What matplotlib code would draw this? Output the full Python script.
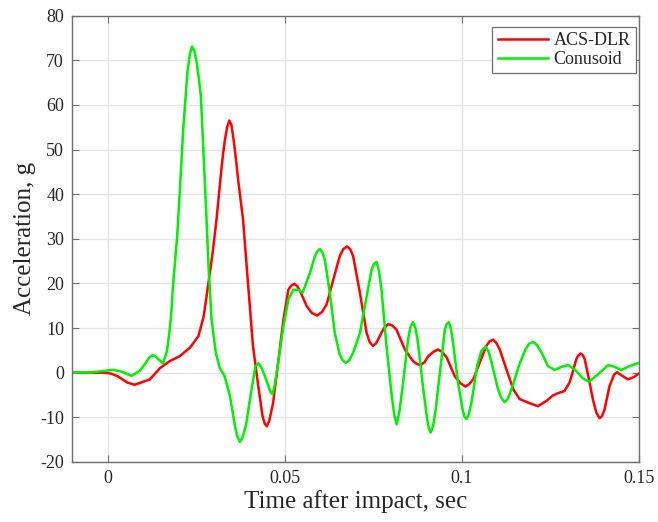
import matplotlib
matplotlib.use("Agg")
from matplotlib import pyplot as plt
from matplotlib.ticker import FixedLocator

# ACS-DLR pulse (time in sec, acceleration in g)
acs_t = [-0.010, -0.005, -0.001, 0.001, 0.003, 0.0055, 0.0076, 0.009, 0.0119, 0.0147,
         0.0175, 0.0203, 0.0232, 0.0256, 0.0271, 0.0283, 0.0296, 0.0307, 0.0318, 0.0324,
         0.0330, 0.0337, 0.0343, 0.0349, 0.0356, 0.0362, 0.0368, 0.0382, 0.0396, 0.0410,
         0.0425, 0.0437, 0.0443, 0.0449, 0.0456, 0.0467, 0.0481, 0.0496, 0.0510, 0.0518,
         0.0527, 0.0535, 0.0543, 0.0562, 0.0576, 0.0591, 0.0605, 0.0618, 0.0637, 0.0655,
         0.0665, 0.0676, 0.0685, 0.0693, 0.0712, 0.0731, 0.0740, 0.0749, 0.0758, 0.0768,
         0.0780, 0.0792, 0.0803, 0.0815, 0.0839, 0.0862, 0.0872, 0.0883, 0.0894, 0.0905,
         0.0920, 0.0933, 0.0945, 0.0957, 0.0980, 0.0995, 0.1010, 0.1020, 0.1032, 0.1050,
         0.1069, 0.1078, 0.1088, 0.1098, 0.1107, 0.1126, 0.1145, 0.1163, 0.1190, 0.1215,
         0.1239, 0.1257, 0.1271, 0.1290, 0.1304, 0.1314, 0.1323, 0.1329, 0.1335, 0.1341,
         0.1347, 0.1359, 0.1370, 0.1380, 0.1389, 0.1396, 0.1403, 0.1417, 0.1430, 0.1438,
         0.1455, 0.1469, 0.1485, 0.1500]
acs_g = [0.0, 0.0, 0.0, -0.2, -0.9, -2.2, -2.7, -2.3, -1.5, 1.0,
         2.6, 3.7, 5.6, 8.2, 12.7, 19.4, 26.8, 34.3, 43.3, 48.0,
         51.8, 55.0, 56.5, 55.6, 51.8, 47.8, 43.3, 34.3, 20.0, 6.0,
         -3.0, -9.7, -11.4, -12.0, -10.8, -6.7, 2.2, 11.9, 18.6, 19.5,
         19.9, 19.4, 18.3, 14.9, 13.4, 12.8, 13.6, 15.3, 20.9, 26.1,
         27.7, 28.3, 27.6, 26.1, 17.9, 8.9, 6.8, 6.0, 6.6, 8.2,
         10.0, 10.9, 10.6, 9.7, 5.2, 2.6, 2.0, 1.7, 2.3, 3.7,
         4.7, 5.2, 4.6, 3.4, -0.8, -2.3, -3.1, -2.6, -1.5, 2.2,
         6.0, 7.0, 7.4, 6.6, 5.2, 0.7, -3.7, -5.9, -6.8, -7.5,
         -6.3, -5.1, -4.6, -4.1, -2.2, 0.4, 3.0, 3.9, 4.3, 4.0,
         3.0, -1.5, -6.0, -9.0, -10.2, -9.7, -8.2, -3.0, -0.4, 0.1,
         -0.8, -1.5, -1.0, -0.2]

# Conusoid pulse
con_t = [-0.010, -0.005, -0.002, 0.0015, 0.004, 0.0067, 0.009, 0.0108, 0.0118, 0.0126,
         0.0134, 0.0143, 0.0156, 0.0166, 0.0170, 0.0175, 0.0180, 0.0184, 0.0190, 0.0196,
         0.0205, 0.0213, 0.0225,
         0.0232, 0.0238, 0.0245, 0.0251, 0.0257, 0.0263, 0.0271, 0.0279, 0.0285, 0.0293,
         0.0305, 0.0316, 0.0330, 0.0345, 0.0359, 0.0366, 0.0373, 0.0380, 0.0390, 0.0406,
         0.0417, 0.0425, 0.0433, 0.0444, 0.0458, 0.0462, 0.0466, 0.0472, 0.0481, 0.0496,
         0.0510, 0.0524, 0.0538, 0.0550, 0.0571, 0.0585, 0.0592, 0.0599, 0.0606, 0.0613,
         0.0627, 0.0641, 0.0655, 0.0663, 0.0672, 0.0682, 0.0693, 0.0712, 0.0731, 0.0745,
         0.0752, 0.0759, 0.0766, 0.0773, 0.0787, 0.0801, 0.0809, 0.0816, 0.0824, 0.0834,
         0.0848, 0.0855, 0.0862, 0.0869, 0.0876, 0.0891, 0.0902, 0.0907, 0.0912, 0.0919,
         0.0926, 0.0940, 0.0952, 0.0957, 0.0963, 0.0969, 0.0975, 0.0989, 0.1002, 0.1007,
         0.1013, 0.1020, 0.1027, 0.1043, 0.1055, 0.1067, 0.1076, 0.1084, 0.1102, 0.1111,
         0.1121, 0.1130, 0.1140, 0.1163, 0.1180, 0.1190, 0.1201, 0.1212, 0.1225, 0.1243,
         0.1262, 0.1281, 0.1300, 0.1319, 0.1342, 0.1359, 0.1384, 0.1413, 0.1432, 0.1450,
         0.1474, 0.1500]
con_g = [0.0, 0.05, 0.3, 0.65, 0.2, -0.7, 0.4, 2.3, 3.5, 3.9,
         3.7, 3.0, 2.1, 4.5, 6.5, 9.7, 14.0, 19.4, 25.0, 30.6,
         43.0, 54.5, 67.5,
         71.5, 73.1, 72.0, 69.5, 66.0, 61.9, 48.0, 34.0, 23.1, 11.9,
         4.5, 1.1, -0.8, -5.2, -11.9, -14.3, -15.5, -14.6, -11.9, -3.7,
         1.4, 2.1, 1.3, -0.8, -4.0, -4.6, -4.7, -2.5, 2.2, 10.4,
         16.4, 18.6, 18.6, 17.9, 22.4, 26.1, 27.2, 27.7, 27.0, 25.3,
         17.9, 8.9, 4.1, 2.8, 2.2, 2.8, 4.5, 8.9, 17.1, 23.1,
         24.4, 24.8, 22.8, 18.6, 6.0, -4.5, -9.5, -11.6, -8.5, -2.2,
         7.4, 10.3, 11.3, 10.0, 6.7, -3.7, -10.4, -12.6, -13.4, -11.8,
         -8.2, 1.5, 9.7, 10.9, 11.3, 9.9, 6.7, -2.2, -8.2, -9.8,
         -10.4, -9.2, -6.7, 1.5, 4.9, 5.8, 4.6, 2.2, -3.7, -5.6,
         -6.6, -5.8, -3.7, 2.0, 5.3, 6.5, 6.9, 6.2, 4.5, 1.5,
         0.6, 1.3, 1.7, 0.7, -1.3, -2.0, -0.4, 1.7, 1.3, 0.6,
         1.5, 2.2]

x_ticks = [0, 0.05, 0.1, 0.15]
x_tick_labels = ['0', '0.05', '0.1', '0.15']
y_ticks = list(range(-20, 81, 10))

plt.rcParams['font.family'] = ['Liberation Serif', 'DejaVu Serif']
plt.rcParams['axes.unicode_minus'] = False
text_color = '#262626'
axis_color = '#6e6e6e'

fig = plt.figure(figsize=(6.58, 5.22), dpi=100)
ax = fig.add_axes([0.110, 0.115, 0.861, 0.855])

ax.plot(acs_t, acs_g, color='#ff0000', lw=1.8, label='ACS-DLR', solid_joinstyle='round')
ax.plot(con_t, con_g, color='#00ee00', lw=1.8, label='Conusoid', solid_joinstyle='round')

ax.set_xlim(-0.01, 0.15)
ax.set_ylim(-20, 80)
ax.xaxis.set_major_locator(FixedLocator(x_ticks))
ax.set_xticklabels(x_tick_labels)
ax.yaxis.set_major_locator(FixedLocator(y_ticks))

ax.grid(True, color='#e3e3e3', lw=0.9)
ax.set_axisbelow(True)
for s in ax.spines.values():
    s.set_color(axis_color)
    s.set_linewidth(1.0)
ax.tick_params(direction='in', length=5, width=0.8, color=axis_color,
               top=True, right=True, labelsize=13, labelcolor=text_color, pad=6)

ax.set_xlabel('Time after impact, sec', fontsize=18, color=text_color, labelpad=2)
ax.set_ylabel('Acceleration, g', fontsize=18, color=text_color, labelpad=3)

leg = ax.legend(loc='upper right', bbox_to_anchor=(0.995, 0.975), fontsize=13,
                frameon=True, fancybox=False, edgecolor=axis_color, framealpha=1,
                handlelength=2.8, handletextpad=0.3, borderpad=0.3,
                labelspacing=0.1, borderaxespad=0)
leg.get_frame().set_linewidth(0.9)
for txt in leg.get_texts():
    txt.set_color(text_color)

fig.savefig('out.png', dpi=100)
